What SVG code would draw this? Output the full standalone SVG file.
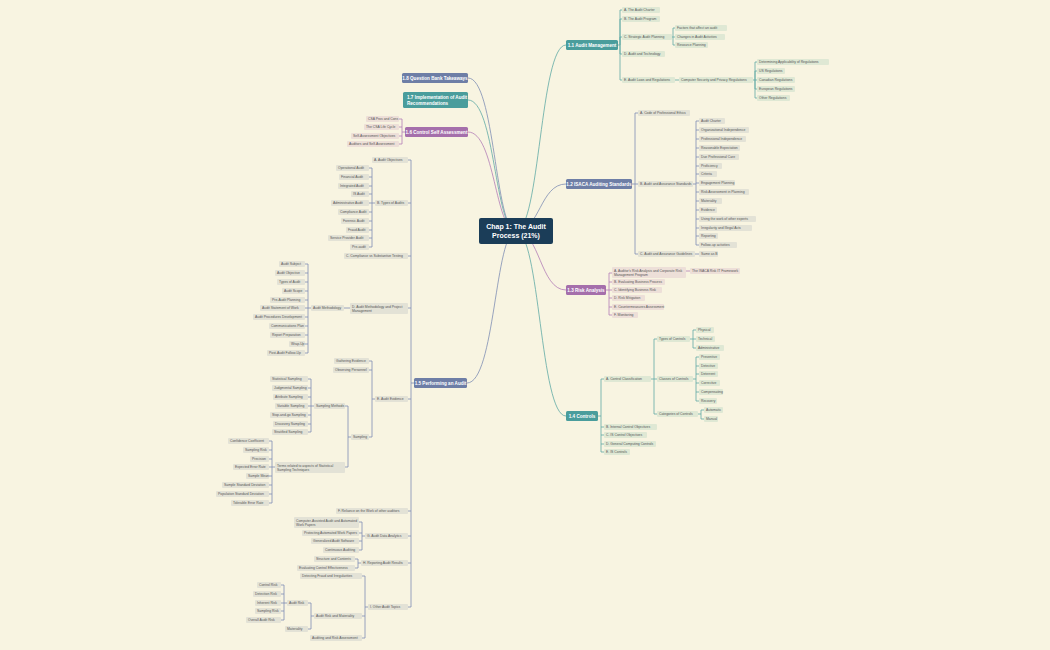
<svg xmlns="http://www.w3.org/2000/svg" width="1050" height="650" viewBox="0 0 1050 650">
<style>
text{font-family:"Liberation Sans",Arial,sans-serif}
.t{font-size:3.4px;fill:#555}
.t2{font-size:3.4px;fill:#555}
.lt{fill:#dfe8d4}.ls{fill:#e3e2d6}.lp{fill:#eddfd8}
.m{font-size:4.6px;font-weight:bold;fill:#fff}
.ct{stroke:#5fa9a4;fill:none;stroke-width:0.8}
.cs{stroke:#7f8eb4;fill:none;stroke-width:0.8}
.cp{stroke:#b27db6;fill:none;stroke-width:0.8}
</style>
<rect width="1050" height="650" fill="#f8f4e1"/>
<g id="connectors">
<!-- main -->
<path class="ct" d="M516 231 C540 231 540 45 566 45"/>
<path class="cs" d="M516 231 C540 231 540 184 566 184"/>
<path class="cp" d="M516 231 C540 231 540 290 566 290"/>
<path class="ct" d="M516 231 C540 231 540 416 566 416"/>
<path class="cs" d="M516 231 C495 231 495 383 467 383"/>
<path class="cp" d="M516 231 C495 231 495 132 468 132"/>
<path class="ct" d="M516 231 C495 231 495 100 468 100"/>
<path class="cs" d="M516 231 C495 231 495 78 468 78"/>
<!-- 1.1 -->
<path class="ct" d="M618 45H620V10H622M620 45V19H622M620 45V37H622M620 45V54H622M620 45V80H622"/>
<path class="ct" d="M672 37H673V28H675M673 37H675M673 37V45H675"/>
<path class="ct" d="M675 80H679"/>
<path class="ct" d="M753 80H755V62H757M755 80V71H757M755 80H757M755 80V89H757M755 80V98H757"/>
<!-- 1.2 -->
<path class="cs" d="M632 184H635V113H638M635 184H638M635 184V254H638"/>
<path class="cs" d="M693 184H696V121H699M696 184V245H699M696 130H699M696 139H699M696 148H699M696 157H699M696 166H699M696 174H699M696 183H699M696 192H699M696 201H699M696 210H699M696 219H699M696 228H699M696 236H699"/>
<path class="cs" d="M695 254H699"/>
<!-- 1.3 -->
<path class="cp" d="M606 290H609V273H612M609 290V315H612M609 282H612M609 290H612M609 298H612M609 307H612"/>
<path class="cp" d="M686 271H690"/>
<!-- 1.4 -->
<path class="ct" d="M598 416H601V379H604M601 416V452H604M601 427H604M601 435H604M601 444H604"/>
<path class="ct" d="M651 379H654V339H657M654 379V414H657M654 379H657"/>
<path class="ct" d="M690 339H693V330H696M693 339H696M693 339V348H696"/>
<path class="ct" d="M693 379H696V357H699M696 379V401H699M696 366H699M696 374H699M696 383H699M696 392H699"/>
<path class="ct" d="M698 414H701V410H704M701 414V419H704"/>
<!-- 1.6 -->
<path class="cp" d="M405 132H402V119H399M402 132V144H399M402 127H399M402 136H399"/>
<!-- 1.5 -->
<path class="cs" d="M414 383H411V160H408M411 383V607H408M411 203H408M411 256H408M411 308H408M411 399H408M411 511H408M411 536H408M411 563H408"/>
<path class="cs" d="M375 203H372V168H369M372 203V247H369M372 177H369M372 186H369M372 194H369M372 203H369M372 212H369M372 221H369M372 230H369M372 238H369"/>
<path class="cs" d="M350 308H344"/>
<path class="cs" d="M311 308H308V264H305M308 308V353H305M308 273H305M308 282H305M308 291H305M308 300H305M308 308H305M308 317H305M308 326H305M308 335H305M308 344H305"/>
<path class="cs" d="M375 399H372V361H369M372 399V437H369M372 370H369"/>
<path class="cs" d="M351 437H348V406H345M348 437V467H345"/>
<path class="cs" d="M314 406H311V379H308M311 406V432H308M311 388H308M311 397H308M311 406H308M311 415H308M311 424H308"/>
<path class="cs" d="M275 467H272V441H269M272 467V503H269M272 450H269M272 459H269M272 467H269M272 476H269M272 485H269M272 494H269"/>
<path class="cs" d="M365 536H362V522H359M362 536V550H359M362 533H359M362 541H359"/>
<path class="cs" d="M361 563H358V559H355M358 563V568H355"/>
<path class="cs" d="M368 607H365V576H362M365 607V638H362M365 616H362"/>
<path class="cs" d="M314 616H311V603H308M311 616V629H308"/>
<path class="cs" d="M287 603H284V585H281M284 603V620H281M284 594H281M284 603H281M284 611H281"/>
</g>

<g id="center"><rect x="479" y="218" width="74" height="26" rx="2" fill="#1b3d58"/><text x="516" y="229" text-anchor="middle" font-size="7" font-weight="bold" fill="#fff">Chap 1: The Audit</text><text x="516" y="238" text-anchor="middle" font-size="7" font-weight="bold" fill="#fff">Process (21%)</text></g>

<g id="n11"><rect x="566" y="40" width="52" height="10" rx="1.5" fill="#4a9d9c"/><text class="m" x="592" y="46.7" text-anchor="middle">1.1 Audit Management</text></g>
<g id="n12"><rect x="566" y="179" width="66" height="10" rx="1.5" fill="#6e7ea6"/><text class="m" x="599" y="185.7" text-anchor="middle">1.2 ISACA Auditing Standards</text></g>
<g id="n13"><rect x="566" y="285" width="40" height="10" rx="1.5" fill="#a56fab"/><text class="m" x="586" y="291.7" text-anchor="middle">1.3 Risk Analysis</text></g>
<g id="n14"><rect x="566" y="411" width="32" height="10" rx="1.5" fill="#4a9d9c"/><text class="m" x="582" y="417.7" text-anchor="middle">1.4 Controls</text></g>
<g id="n15"><rect x="414" y="378" width="53" height="10" rx="1.5" fill="#6e7ea6"/><text class="m" x="440.5" y="384.7" text-anchor="middle">1.5 Performing an Audit</text></g>
<g id="n16"><rect x="405" y="127" width="63" height="10" rx="1.5" fill="#a56fab"/><text class="m" x="436.5" y="133.7" text-anchor="middle">1.6 Control Self Assessment</text></g>
<g id="n17"><rect x="403" y="92" width="65" height="16" rx="1.5" fill="#4a9d9c"/><text class="m" x="407" y="98.5">1.7 Implementation of Audit</text><text class="m" x="407" y="104.5">Recommendations</text></g>
<g id="n18"><rect x="402" y="73" width="66" height="10" rx="1.5" fill="#6e7ea6"/><text class="m" x="435" y="79.7" text-anchor="middle">1.8 Question Bank Takeaways</text></g>

<!-- 1.1 leaves -->
<g id="a11"><rect class="lt" x="622" y="7" width="38" height="6" rx="1"/><text class="t" x="624" y="11.2">A. The Audit Charter</text></g>
<g id="b11"><rect class="lt" x="622" y="16" width="38" height="6" rx="1"/><text class="t" x="624" y="20.2">B. The Audit Program</text></g>
<g id="c11"><rect class="lt" x="622" y="34" width="50" height="6" rx="1"/><text class="t" x="624" y="38.2">C. Strategic Audit Planning</text></g>
<g id="d11"><rect class="lt" x="622" y="51" width="43" height="6" rx="1"/><text class="t" x="624" y="55.2">D. Audit and Technology</text></g>
<g id="e11"><rect class="lt" x="622" y="77" width="53" height="6" rx="1"/><text class="t" x="624" y="81.2">E. Audit Laws and Regulations</text></g>
<g id="c11a"><rect class="lt" x="675" y="25" width="52" height="6" rx="1"/><text class="t" x="677" y="29.2">Factors that affect an audit</text></g>
<g id="c11b"><rect class="lt" x="675" y="34" width="50" height="6" rx="1"/><text class="t" x="677" y="38.2">Changes in Audit Activities</text></g>
<g id="c11c"><rect class="lt" x="675" y="42" width="33" height="6" rx="1"/><text class="t" x="677" y="46.2">Resource Planning</text></g>
<g id="e11a"><rect class="lt" x="679" y="77" width="74" height="6" rx="1"/><text class="t" x="681" y="81.2">Computer Security and Privacy Regulations</text></g>
<g id="r1"><rect class="lt" x="757" y="59" width="72" height="6" rx="1"/><text class="t" x="759" y="63.2">Determining Applicability of Regulations</text></g>
<g id="r2"><rect class="lt" x="757" y="68" width="28" height="6" rx="1"/><text class="t" x="759" y="72.2">US Regulations</text></g>
<g id="r3"><rect class="lt" x="757" y="77" width="38" height="6" rx="1"/><text class="t" x="759" y="81.2">Canadian Regulations</text></g>
<g id="r4"><rect class="lt" x="757" y="86" width="38" height="6" rx="1"/><text class="t" x="759" y="90.2">European Regulations</text></g>
<g id="r5"><rect class="lt" x="757" y="95" width="33" height="6" rx="1"/><text class="t" x="759" y="99.2">Other Regulations</text></g>

<!-- 1.2 leaves -->
<g id="a12"><rect class="ls" x="638" y="110" width="52" height="6" rx="1"/><text class="t" x="640" y="114.2">A. Code of Professional Ethics</text></g>
<g id="b12"><rect class="ls" x="638" y="181" width="55" height="6" rx="1"/><text class="t" x="640" y="185.2">B. Audit and Assurance Standards</text></g>
<g id="c12"><rect class="ls" x="638" y="251" width="57" height="6" rx="1"/><text class="t" x="640" y="255.2">C. Audit and Assurance Guidelines</text></g>
<g id="s1"><rect class="ls" x="699" y="118" width="26" height="6" rx="1"/><text class="t" x="701" y="122.2">Audit Charter</text></g>
<g id="s2"><rect class="ls" x="699" y="127" width="50" height="6" rx="1"/><text class="t" x="701" y="131.2">Organizational Independence</text></g>
<g id="s3"><rect class="ls" x="699" y="136" width="47" height="6" rx="1"/><text class="t" x="701" y="140.2">Professional Independence</text></g>
<g id="s4"><rect class="ls" x="699" y="145" width="41" height="6" rx="1"/><text class="t" x="701" y="149.2">Reasonable Expectation</text></g>
<g id="s5"><rect class="ls" x="699" y="154" width="40" height="6" rx="1"/><text class="t" x="701" y="158.2">Due Professional Care</text></g>
<g id="s6"><rect class="ls" x="699" y="163" width="23" height="6" rx="1"/><text class="t" x="701" y="167.2">Proficiency</text></g>
<g id="s7"><rect class="ls" x="699" y="171" width="18" height="6" rx="1"/><text class="t" x="701" y="175.2">Criteria</text></g>
<g id="s8"><rect class="ls" x="699" y="180" width="36" height="6" rx="1"/><text class="t" x="701" y="184.2">Engagement Planning</text></g>
<g id="s9"><rect class="ls" x="699" y="189" width="50" height="6" rx="1"/><text class="t" x="701" y="193.2">Risk Assessment in Planning</text></g>
<g id="s10"><rect class="ls" x="699" y="198" width="23" height="6" rx="1"/><text class="t" x="701" y="202.2">Materiality</text></g>
<g id="s11"><rect class="ls" x="699" y="207" width="18" height="6" rx="1"/><text class="t" x="701" y="211.2">Evidence</text></g>
<g id="s12"><rect class="ls" x="699" y="216" width="57" height="6" rx="1"/><text class="t" x="701" y="220.2">Using the work of other experts</text></g>
<g id="s13"><rect class="ls" x="699" y="225" width="53" height="6" rx="1"/><text class="t" x="701" y="229.2">Irregularity and Illegal Acts</text></g>
<g id="s14"><rect class="ls" x="699" y="233" width="19" height="6" rx="1"/><text class="t" x="701" y="237.2">Reporting</text></g>
<g id="s15"><rect class="ls" x="699" y="242" width="38" height="6" rx="1"/><text class="t" x="701" y="246.2">Follow-up activities</text></g>
<g id="s16"><rect class="ls" x="699" y="251" width="19" height="6" rx="1"/><text class="t" x="701" y="255.2">Same as B</text></g>

<!-- 1.3 leaves -->
<g id="a13"><rect class="lp" x="612" y="267" width="74" height="11" rx="1"/><text class="t" x="614" y="271.5">A. Auditor's Risk Analysis and Corporate Risk</text><text class="t" x="614" y="276">Management Program</text></g>
<g id="b13"><rect class="lp" x="612" y="279" width="53" height="6" rx="1"/><text class="t" x="614" y="283.2">B. Evaluating Business Process</text></g>
<g id="c13"><rect class="lp" x="612" y="287" width="50" height="6" rx="1"/><text class="t" x="614" y="291.2">C. Identifying Business Risk</text></g>
<g id="d13"><rect class="lp" x="612" y="295" width="33" height="6" rx="1"/><text class="t" x="614" y="299.2">D. Risk Mitigation</text></g>
<g id="e13"><rect class="lp" x="612" y="304" width="52" height="6" rx="1"/><text class="t" x="614" y="308.2">E. Countermeasures Assessment</text></g>
<g id="f13"><rect class="lp" x="612" y="312" width="26" height="6" rx="1"/><text class="t" x="614" y="316.2">F. Monitoring</text></g>
<g id="a13a"><rect class="lp" x="690" y="268" width="50" height="6" rx="1"/><text class="t" x="692" y="272.2">The ISACA Risk IT Framework</text></g>

<!-- 1.4 leaves -->
<g id="a14"><rect class="lt" x="604" y="376" width="47" height="6" rx="1"/><text class="t" x="606" y="380.2">A. Control Classification</text></g>
<g id="b14"><rect class="lt" x="604" y="424" width="53" height="6" rx="1"/><text class="t" x="606" y="428.2">B. Internal Control Objectives</text></g>
<g id="c14"><rect class="lt" x="604" y="432" width="43" height="6" rx="1"/><text class="t" x="606" y="436.2">C. IS Control Objectives</text></g>
<g id="d14"><rect class="lt" x="604" y="441" width="52" height="6" rx="1"/><text class="t" x="606" y="445.2">D. General Computing Controls</text></g>
<g id="e14"><rect class="lt" x="604" y="449" width="26" height="6" rx="1"/><text class="t" x="606" y="453.2">E. IS Controls</text></g>
<g id="tc"><rect class="lt" x="657" y="336" width="33" height="6" rx="1"/><text class="t" x="659" y="340.2">Types of Controls</text></g>
<g id="cc"><rect class="lt" x="657" y="376" width="36" height="6" rx="1"/><text class="t" x="659" y="380.2">Classes of Controls</text></g>
<g id="gc"><rect class="lt" x="657" y="411" width="41" height="6" rx="1"/><text class="t" x="659" y="415.2">Categories of Controls</text></g>
<g id="t1"><rect class="lt" x="696" y="327" width="18" height="6" rx="1"/><text class="t" x="698" y="331.2">Physical</text></g>
<g id="t2"><rect class="lt" x="696" y="336" width="19" height="6" rx="1"/><text class="t" x="698" y="340.2">Technical</text></g>
<g id="t3"><rect class="lt" x="696" y="345" width="28" height="6" rx="1"/><text class="t" x="698" y="349.2">Administrative</text></g>
<g id="k1"><rect class="lt" x="699" y="354" width="21" height="6" rx="1"/><text class="t" x="701" y="358.2">Preventive</text></g>
<g id="k2"><rect class="lt" x="699" y="363" width="19" height="6" rx="1"/><text class="t" x="701" y="367.2">Detective</text></g>
<g id="k3"><rect class="lt" x="699" y="371" width="19" height="6" rx="1"/><text class="t" x="701" y="375.2">Deterrent</text></g>
<g id="k4"><rect class="lt" x="699" y="380" width="21" height="6" rx="1"/><text class="t" x="701" y="384.2">Corrective</text></g>
<g id="k5"><rect class="lt" x="699" y="389" width="24" height="6" rx="1"/><text class="t" x="701" y="393.2">Compensating</text></g>
<g id="k6"><rect class="lt" x="699" y="398" width="18" height="6" rx="1"/><text class="t" x="701" y="402.2">Recovery</text></g>
<g id="g1"><rect class="lt" x="704" y="407" width="19" height="6" rx="1"/><text class="t" x="706" y="411.2">Automatic</text></g>
<g id="g2"><rect class="lt" x="704" y="416" width="14" height="6" rx="1"/><text class="t" x="706" y="420.2">Manual</text></g>

<!-- 1.6 leaves -->
<g id="p1"><rect class="lp" x="366" y="116" width="33" height="6" rx="1"/><text class="t" x="368" y="120.2">CSA Pros and Cons</text></g>
<g id="p2"><rect class="lp" x="364" y="124" width="35" height="6" rx="1"/><text class="t" x="366" y="128.2">The CSA Life Cycle</text></g>
<g id="p3"><rect class="lp" x="351" y="133" width="48" height="6" rx="1"/><text class="t" x="353" y="137.2">Self-Assessment Objectives</text></g>
<g id="p4"><rect class="lp" x="347" y="141" width="52" height="6" rx="1"/><text class="t" x="349" y="145.2">Auditors and Self-Assessment</text></g>

<!-- 1.5 leaves -->
<g id="a15"><rect class="ls" x="372" y="157" width="36" height="6" rx="1"/><text class="t" x="374" y="161.2">A. Audit Objectives</text></g>
<g id="b15"><rect class="ls" x="375" y="200" width="33" height="6" rx="1"/><text class="t" x="377" y="204.2">B. Types of Audits</text></g>
<g id="c15"><rect class="ls" x="344" y="253" width="64" height="6" rx="1"/><text class="t" x="346" y="257.2">C. Compliance vs Substantive Testing</text></g>
<g id="d15"><rect class="ls" x="350" y="303" width="58" height="11" rx="1"/><text class="t" x="352" y="307.5">D. Audit Methodology and Project</text><text class="t" x="352" y="312">Management</text></g>
<g id="e15"><rect class="ls" x="375" y="396" width="33" height="6" rx="1"/><text class="t" x="377" y="400.2">E. Audit Evidence</text></g>
<g id="f15"><rect class="ls" x="336" y="508" width="72" height="6" rx="1"/><text class="t" x="338" y="512.2">F. Reliance on the Work of other auditors</text></g>
<g id="g15"><rect class="ls" x="365" y="533" width="43" height="6" rx="1"/><text class="t" x="367" y="537.2">G. Audit Data Analytics</text></g>
<g id="h15"><rect class="ls" x="361" y="560" width="47" height="6" rx="1"/><text class="t" x="363" y="564.2">H. Reporting Audit Results</text></g>
<g id="i15"><rect class="ls" x="368" y="604" width="40" height="6" rx="1"/><text class="t" x="370" y="608.2">I. Other Audit Topics</text></g>

<g id="ty1"><rect class="ls" x="336" y="165" width="33" height="6" rx="1"/><text class="t" x="338" y="169.2">Operational Audit</text></g>
<g id="ty2"><rect class="ls" x="339" y="174" width="30" height="6" rx="1"/><text class="t" x="341" y="178.2">Financial Audit</text></g>
<g id="ty3"><rect class="ls" x="338" y="183" width="31" height="6" rx="1"/><text class="t" x="340" y="187.2">Integrated Audit</text></g>
<g id="ty4"><rect class="ls" x="351" y="191" width="18" height="6" rx="1"/><text class="t" x="353" y="195.2">IS Audit</text></g>
<g id="ty5"><rect class="ls" x="331" y="200" width="38" height="6" rx="1"/><text class="t" x="333" y="204.2">Administrative Audit</text></g>
<g id="ty6"><rect class="ls" x="338" y="209" width="31" height="6" rx="1"/><text class="t" x="340" y="213.2">Compliance Audit</text></g>
<g id="ty7"><rect class="ls" x="341" y="218" width="28" height="6" rx="1"/><text class="t" x="343" y="222.2">Forensic Audit</text></g>
<g id="ty8"><rect class="ls" x="346" y="227" width="23" height="6" rx="1"/><text class="t" x="348" y="231.2">Fraud Audit</text></g>
<g id="ty9"><rect class="ls" x="328" y="235" width="41" height="6" rx="1"/><text class="t" x="330" y="239.2">Service Provider Audit</text></g>
<g id="ty10"><rect class="ls" x="350" y="244" width="19" height="6" rx="1"/><text class="t" x="352" y="248.2">Pre-audit</text></g>

<g id="am"><rect class="ls" x="311" y="305" width="33" height="6" rx="1"/><text class="t" x="313" y="309.2">Audit Methodology</text></g>
<g id="m1"><rect class="ls" x="279" y="261" width="26" height="6" rx="1"/><text class="t" x="281" y="265.2">Audit Subject</text></g>
<g id="m2"><rect class="ls" x="275" y="270" width="30" height="6" rx="1"/><text class="t" x="277" y="274.2">Audit Objective</text></g>
<g id="m3"><rect class="ls" x="277" y="279" width="28" height="6" rx="1"/><text class="t" x="279" y="283.2">Types of Audit</text></g>
<g id="m4"><rect class="ls" x="282" y="288" width="23" height="6" rx="1"/><text class="t" x="284" y="292.2">Audit Scope</text></g>
<g id="m5"><rect class="ls" x="270" y="297" width="35" height="6" rx="1"/><text class="t" x="272" y="301.2">Pre-Audit Planning</text></g>
<g id="m6"><rect class="ls" x="260" y="305" width="45" height="6" rx="1"/><text class="t" x="262" y="309.2">Audit Statement of Work</text></g>
<g id="m7"><rect class="ls" x="253" y="314" width="52" height="6" rx="1"/><text class="t" x="255" y="318.2">Audit Procedures Development</text></g>
<g id="m8"><rect class="ls" x="269" y="323" width="36" height="6" rx="1"/><text class="t" x="271" y="327.2">Communications Plan</text></g>
<g id="m9"><rect class="ls" x="270" y="332" width="35" height="6" rx="1"/><text class="t" x="272" y="336.2">Report Preparation</text></g>
<g id="m10"><rect class="ls" x="289" y="341" width="16" height="6" rx="1"/><text class="t" x="291" y="345.2">Wrap-Up</text></g>
<g id="m11"><rect class="ls" x="267" y="350" width="38" height="6" rx="1"/><text class="t" x="269" y="354.2">Post-Audit Follow-Up</text></g>

<g id="ev1"><rect class="ls" x="334" y="358" width="35" height="6" rx="1"/><text class="t" x="336" y="362.2">Gathering Evidence</text></g>
<g id="ev2"><rect class="ls" x="333" y="367" width="36" height="6" rx="1"/><text class="t" x="335" y="371.2">Observing Personnel</text></g>
<g id="ev3"><rect class="ls" x="351" y="434" width="18" height="6" rx="1"/><text class="t" x="353" y="438.2">Sampling</text></g>
<g id="smm"><rect class="ls" x="314" y="403" width="31" height="6" rx="1"/><text class="t" x="316" y="407.2">Sampling Methods</text></g>
<g id="trm"><rect class="ls" x="275" y="462" width="70" height="11" rx="1"/><text class="t" x="277" y="466.5">Terms related to aspects of Statistical</text><text class="t" x="277" y="471">Sampling Techniques</text></g>
<g id="sm1"><rect class="ls" x="270" y="376" width="38" height="6" rx="1"/><text class="t" x="272" y="380.2">Statistical Sampling</text></g>
<g id="sm2"><rect class="ls" x="272" y="385" width="36" height="6" rx="1"/><text class="t" x="274" y="389.2">Judgmental Sampling</text></g>
<g id="sm3"><rect class="ls" x="273" y="394" width="35" height="6" rx="1"/><text class="t" x="275" y="398.2">Attribute Sampling</text></g>
<g id="sm4"><rect class="ls" x="275" y="403" width="33" height="6" rx="1"/><text class="t" x="277" y="407.2">Variable Sampling</text></g>
<g id="sm5"><rect class="ls" x="270" y="412" width="38" height="6" rx="1"/><text class="t" x="272" y="416.2">Stop-and-go Sampling</text></g>
<g id="sm6"><rect class="ls" x="273" y="421" width="35" height="6" rx="1"/><text class="t" x="275" y="425.2">Discovery Sampling</text></g>
<g id="sm7"><rect class="ls" x="272" y="429" width="36" height="6" rx="1"/><text class="t" x="274" y="433.2">Stratified Sampling</text></g>
<g id="tr1"><rect class="ls" x="228" y="438" width="41" height="6" rx="1"/><text class="t" x="230" y="442.2">Confidence Coefficient</text></g>
<g id="tr2"><rect class="ls" x="243" y="447" width="26" height="6" rx="1"/><text class="t" x="245" y="451.2">Sampling Risk</text></g>
<g id="tr3"><rect class="ls" x="250" y="456" width="19" height="6" rx="1"/><text class="t" x="252" y="460.2">Precision</text></g>
<g id="tr4"><rect class="ls" x="233" y="464" width="36" height="6" rx="1"/><text class="t" x="235" y="468.2">Expected Error Rate</text></g>
<g id="tr5"><rect class="ls" x="246" y="473" width="23" height="6" rx="1"/><text class="t" x="248" y="477.2">Sample Mean</text></g>
<g id="tr6"><rect class="ls" x="222" y="482" width="47" height="6" rx="1"/><text class="t" x="224" y="486.2">Sample Standard Deviation</text></g>
<g id="tr7"><rect class="ls" x="216" y="491" width="53" height="6" rx="1"/><text class="t" x="218" y="495.2">Population Standard Deviation</text></g>
<g id="tr8"><rect class="ls" x="231" y="500" width="38" height="6" rx="1"/><text class="t" x="233" y="504.2">Tolerable Error Rate</text></g>

<g id="ga1"><rect class="ls" x="294" y="517" width="65" height="11" rx="1"/><text class="t" x="296" y="521.5">Computer-Assisted Audit and Automated</text><text class="t" x="296" y="526">Work Papers</text></g>
<g id="ga2"><rect class="ls" x="302" y="530" width="57" height="6" rx="1"/><text class="t" x="304" y="534.2">Protecting Automated Work Papers</text></g>
<g id="ga3"><rect class="ls" x="311" y="538" width="48" height="6" rx="1"/><text class="t" x="313" y="542.2">Generalized Audit Software</text></g>
<g id="ga4"><rect class="ls" x="323" y="547" width="36" height="6" rx="1"/><text class="t" x="325" y="551.2">Continuous Auditing</text></g>
<g id="ra1"><rect class="ls" x="314" y="556" width="41" height="6" rx="1"/><text class="t" x="316" y="560.2">Structure and Contents</text></g>
<g id="ra2"><rect class="ls" x="297" y="565" width="58" height="6" rx="1"/><text class="t" x="299" y="569.2">Evaluating Control Effectiveness</text></g>
<g id="ot1"><rect class="ls" x="300" y="573" width="62" height="6" rx="1"/><text class="t" x="302" y="577.2">Detecting Fraud and Irregularities</text></g>
<g id="ot2"><rect class="ls" x="314" y="613" width="48" height="6" rx="1"/><text class="t" x="316" y="617.2">Audit Risk and Materiality</text></g>
<g id="ot3"><rect class="ls" x="310" y="635" width="52" height="6" rx="1"/><text class="t" x="312" y="639.2">Auditing and Risk Assessment</text></g>
<g id="ar"><rect class="ls" x="287" y="600" width="21" height="6" rx="1"/><text class="t" x="289" y="604.2">Audit Risk</text></g>
<g id="mt"><rect class="ls" x="285" y="626" width="23" height="6" rx="1"/><text class="t" x="287" y="630.2">Materiality</text></g>
<g id="ar1"><rect class="ls" x="257" y="582" width="24" height="6" rx="1"/><text class="t" x="259" y="586.2">Control Risk</text></g>
<g id="ar2"><rect class="ls" x="253" y="591" width="28" height="6" rx="1"/><text class="t" x="255" y="595.2">Detection Risk</text></g>
<g id="ar3"><rect class="ls" x="255" y="600" width="26" height="6" rx="1"/><text class="t" x="257" y="604.2">Inherent Risk</text></g>
<g id="ar4"><rect class="ls" x="255" y="608" width="26" height="6" rx="1"/><text class="t" x="257" y="612.2">Sampling Risk</text></g>
<g id="ar5"><rect class="ls" x="246" y="617" width="35" height="6" rx="1"/><text class="t" x="248" y="621.2">Overall Audit Risk</text></g>
</svg>
